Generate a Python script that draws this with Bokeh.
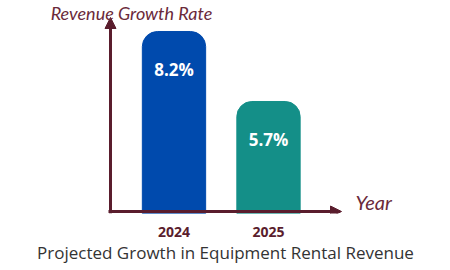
from bokeh.plotting import figure
from bokeh.models import Range1d, Label, Arrow, NormalHead, ColumnDataSource, FixedTicker
from bokeh.core.properties import value
from bokeh.embed import file_html
from bokeh.resources import INLINE

years = ["2024", "2025"]
growth = [8.2, 5.7]
growth_labels = ["8.2%", "5.7%"]
bar_colors = ["#004aad", "#148f88"]
title_text = "Projected Growth in Equipment Rental Revenue"
y_title = "Revenue Growth Rate"
x_title = "Year"

AXIS = "#5a1d2d"
HAND = "#6b2a3a"

pos = list(range(len(years)))
src = ColumnDataSource(dict(x=pos, growth=growth, label=growth_labels, color=bar_colors))

p = figure(width=450, height=270, output_backend="svg", toolbar_location=None,
           x_range=Range1d(-1.836, 2.926), y_range=Range1d(1.7, 9.307),
           min_border_left=0, min_border_right=0, min_border_top=0, min_border_bottom=57)
p.outline_line_color = None
p.grid.visible = False
p.yaxis.visible = False
p.background_fill_color = "white"
p.border_fill_color = "white"

p.vbar(x="x", top="growth", bottom=0, width=0.67, color="color", source=src,
       border_radius=(15, 15, 0, 0))
p.text(x="x", y="growth", text="label", source=src, y_offset=38,
       text_color="white", text_font=value("Open Sans"), text_font_style="bold",
       text_font_size="17px", text_align="center", text_baseline="middle")

ax = p.xaxis[0]
ax.ticker = FixedTicker(ticks=pos)
ax.major_label_overrides = {i: y for i, y in zip(pos, years)}
ax.axis_line_color = None
ax.major_tick_line_color = None
ax.minor_tick_line_color = None
ax.major_tick_out = 0
ax.major_tick_in = 0
ax.major_label_standoff = 13
ax.major_label_text_font = "Open Sans"
ax.major_label_text_font_style = "bold"
ax.major_label_text_font_size = "14px"
ax.major_label_text_color = AXIS
ax.axis_label = title_text
ax.axis_label_standoff = 1
ax.axis_label_text_font = "Open Sans"
ax.axis_label_text_font_style = "normal"
ax.axis_label_text_font_size = "17px"
ax.axis_label_text_color = "#333333"

# axis arrows (screen units are relative to the plot frame, y upward from its bottom)
p.add_layout(Arrow(x_start=110, y_start=0, x_end=110, y_end=196,
                   start_units="screen", end_units="screen",
                   line_color=AXIS, line_width=3,
                   end=NormalHead(size=11, fill_color=AXIS, line_color=AXIS)))
p.add_layout(Arrow(x_start=108, y_start=2, x_end=341, y_end=2,
                   start_units="screen", end_units="screen",
                   line_color=AXIS, line_width=3,
                   end=NormalHead(size=11, fill_color=AXIS, line_color=AXIS)))

p.add_layout(Label(x=131, y=212, x_units="screen", y_units="screen", text=y_title,
                   text_align="center", text_baseline="top",
                   text_font="Lato", text_font_style="italic",
                   text_font_size="18px", text_color=HAND))
p.add_layout(Label(x=355, y=0, x_units="screen", y_units="screen", text=x_title,
                   text_align="left", text_baseline="bottom",
                   text_font="Lato", text_font_style="italic",
                   text_font_size="20px", text_color=HAND))

open("out.html", "w").write(file_html(p, INLINE))
